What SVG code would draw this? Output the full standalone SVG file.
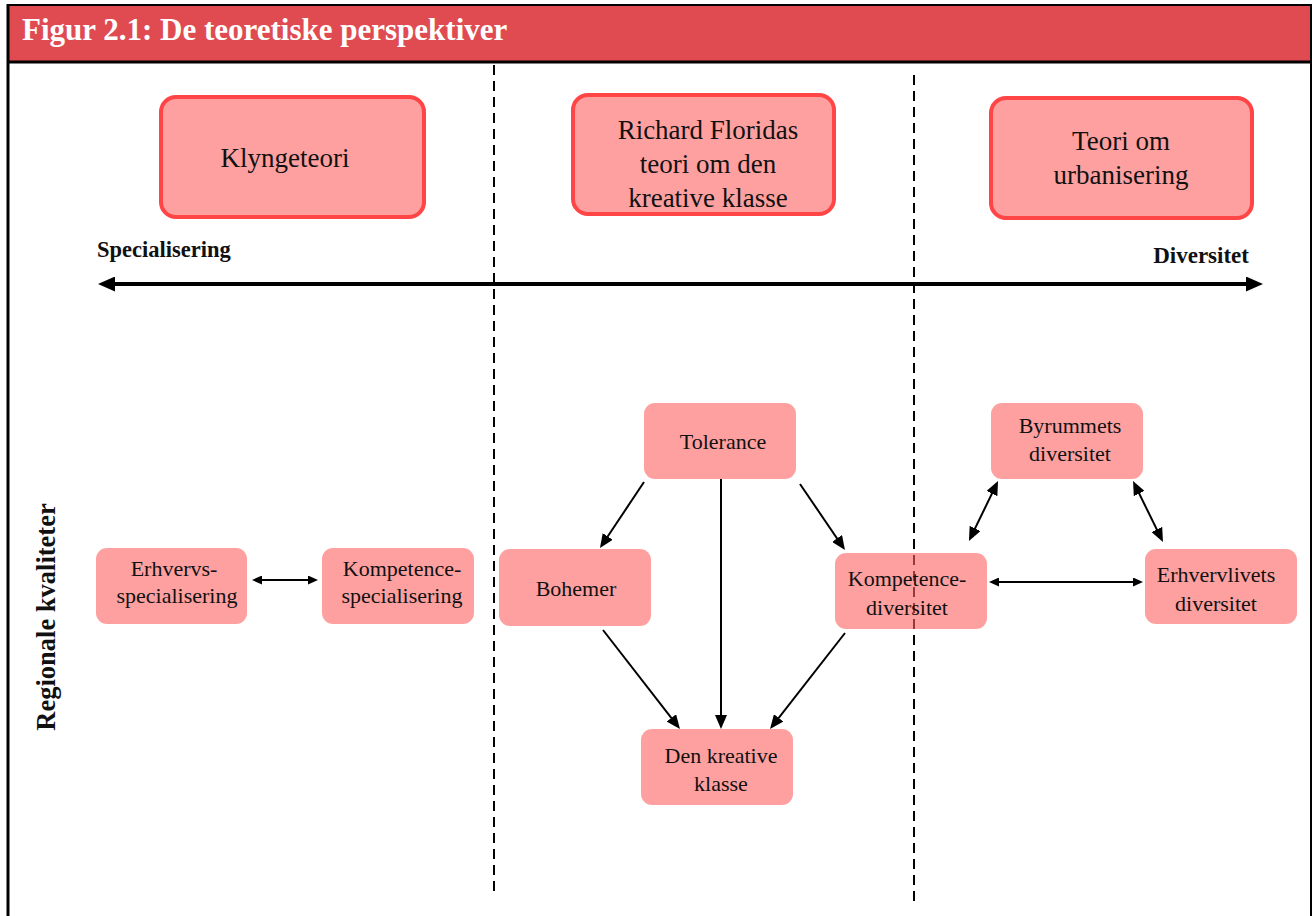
<svg xmlns="http://www.w3.org/2000/svg" width="1312" height="916" viewBox="0 0 1312 916">
<style>
.big{fill:#FFA0A0;stroke:#FF4545;stroke-width:4}
.node{fill:#FF6161;fill-opacity:0.6}
.t{font-family:"Liberation Serif","Times New Roman",serif;fill:#111;text-anchor:middle}
.tb{font-size:27px}
.ts{font-size:22px}
.lbl{font-family:"Liberation Serif","Times New Roman",serif;font-weight:bold;fill:#111}
.dash{stroke:#000;stroke-width:2;stroke-dasharray:10,6;fill:none}
.ln{stroke:#000;stroke-width:2;fill:none}
</style>
<defs>
<marker id="ah" viewBox="0 0 14 12" refX="10" refY="6" markerWidth="14" markerHeight="12" markerUnits="userSpaceOnUse" orient="auto-start-reverse"><path d="M0,0 L14,6 L0,12 z" fill="#000"/></marker>
<marker id="ahs" viewBox="0 0 10 9" refX="7" refY="4.5" markerWidth="10" markerHeight="9" markerUnits="userSpaceOnUse" orient="auto-start-reverse"><path d="M0,0 L10,4.5 L0,9 z" fill="#000"/></marker>
<marker id="ahb" viewBox="0 0 17 15" refX="11" refY="7.5" markerWidth="17" markerHeight="15" markerUnits="userSpaceOnUse" orient="auto-start-reverse"><path d="M0,0 L17,7.5 L0,15 z" fill="#000"/></marker>
</defs>
<rect x="0" y="0" width="1312" height="916" fill="#fff"/>
<g id="frame">
<rect x="8" y="5" width="1303" height="57" fill="#DF4B51"/>
<line x1="7" y1="5" x2="1312" y2="5" stroke="#000" stroke-width="2"/>
<line x1="7" y1="62" x2="1312" y2="62" stroke="#000" stroke-width="3"/>
<line x1="8" y1="4" x2="8" y2="916" stroke="#000" stroke-width="3"/>
<line x1="1311" y1="4" x2="1311" y2="916" stroke="#000" stroke-width="2"/>
<text x="22" y="40" font-family="'Liberation Serif','Times New Roman',serif" font-weight="bold" font-size="31" fill="#fff">Figur 2.1: De teoretiske perspektiver</text>
</g>
<g id="dividers">
<line class="dash" x1="494" y1="65" x2="494" y2="897"/>
<line class="dash" x1="914" y1="75" x2="914" y2="905"/>
</g>
<g id="axis">
<line x1="104" y1="284" x2="1257" y2="284" stroke="#000" stroke-width="4" marker-start="url(#ahb)" marker-end="url(#ahb)"/>
<text class="lbl" x="97" y="257" font-size="22.5">Specialisering</text>
<text class="lbl" x="1249" y="263" font-size="23" text-anchor="end">Diversitet</text>
<text class="lbl" transform="translate(55,617) rotate(-90)" font-size="26.5" text-anchor="middle">Regionale kvaliteter</text>
</g>
<g id="klyngeteori">
<rect class="big" x="161" y="97" width="263" height="120" rx="15"/>
<text class="t tb" x="285" y="167">Klyngeteori</text>
</g>
<g id="florida">
<rect class="big" x="573" y="95" width="261" height="119" rx="15"/>
<text class="t tb" x="708" y="139">Richard Floridas</text>
<text class="t tb" x="708" y="173">teori om den</text>
<text class="t tb" x="708" y="207">kreative klasse</text>
</g>
<g id="urbanisering">
<rect class="big" x="991" y="98" width="261" height="120" rx="15"/>
<text class="t tb" x="1121" y="150">Teori om</text>
<text class="t tb" x="1121" y="184">urbanisering</text>
</g>
<g id="erhvervsspecialisering">
<rect class="node" x="96" y="548" width="151" height="76" rx="11"/>
<text class="t ts" x="174" y="576">Erhvervs-</text>
<text class="t ts" x="177" y="603">specialisering</text>
</g>
<g id="kompetencespecialisering">
<rect class="node" x="322" y="548" width="152" height="76" rx="11"/>
<text class="t ts" x="402" y="576">Kompetence-</text>
<text class="t ts" x="402" y="603">specialisering</text>
</g>
<g id="tolerance">
<rect class="node" x="644" y="403" width="152" height="76" rx="11"/>
<text class="t ts" x="723" y="449">Tolerance</text>
</g>
<g id="bohemer">
<rect class="node" x="499" y="549" width="152" height="77" rx="11"/>
<text class="t ts" x="576" y="596">Bohemer</text>
</g>
<g id="kompetencediversitet">
<rect class="node" x="835" y="553" width="152" height="76" rx="11"/>
<text class="t ts" x="907" y="586">Kompetence-</text>
<text class="t ts" x="907" y="615">diversitet</text>
</g>
<g id="denkreative">
<rect class="node" x="641" y="729" width="152" height="76" rx="11"/>
<text class="t ts" x="721" y="763">Den kreative</text>
<text class="t ts" x="721" y="791">klasse</text>
</g>
<g id="byrummets">
<rect class="node" x="991" y="403" width="152" height="76" rx="11"/>
<text class="t ts" x="1070" y="433">Byrummets</text>
<text class="t ts" x="1070" y="461">diversitet</text>
</g>
<g id="erhvervlivets">
<rect class="node" x="1145" y="549" width="152" height="75" rx="11"/>
<text class="t ts" x="1216" y="582">Erhvervlivets</text>
<text class="t ts" x="1216" y="611">diversitet</text>
</g>
<g id="connectors">
<line class="ln" x1="644" y1="482" x2="602.2" y2="544.7" marker-end="url(#ah)"/>
<line class="ln" x1="800" y1="484" x2="842.7" y2="546.7" marker-end="url(#ah)"/>
<line class="ln" x1="721" y1="479" x2="721" y2="725" marker-end="url(#ah)"/>
<line class="ln" x1="603" y1="630" x2="677.5" y2="725.8" marker-end="url(#ah)"/>
<line class="ln" x1="845" y1="633" x2="772.5" y2="725.8" marker-end="url(#ah)"/>
<line class="ln" x1="255" y1="580" x2="315" y2="580" marker-start="url(#ahs)" marker-end="url(#ahs)"/>
<line class="ln" x1="992" y1="582" x2="1140" y2="582" marker-start="url(#ahs)" marker-end="url(#ahs)"/>
<line class="ln" x1="970.7" y1="537.4" x2="996.3" y2="484.6" marker-start="url(#ah)" marker-end="url(#ah)"/>
<line class="ln" x1="1134.8" y1="484.6" x2="1161.2" y2="538.4" marker-start="url(#ah)" marker-end="url(#ah)"/>
</g>
</svg>
